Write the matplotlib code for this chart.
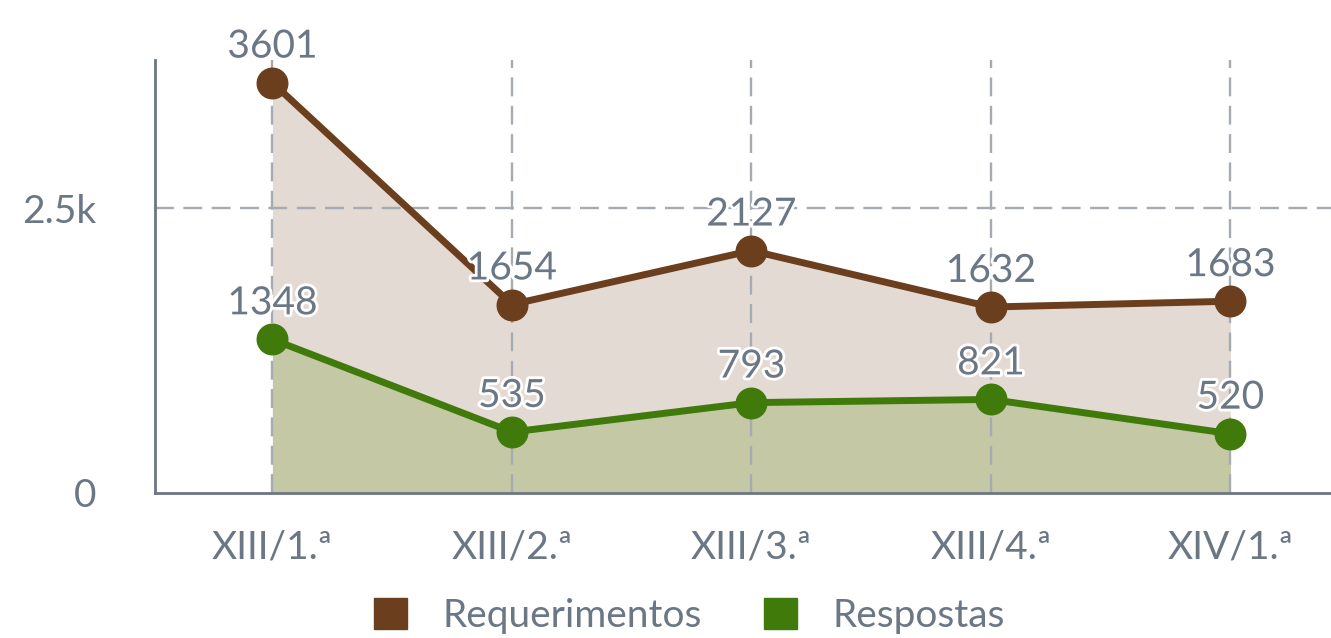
import numpy as np
import matplotlib.pyplot as plt
import matplotlib.patheffects as pe
from matplotlib.patches import Patch

plt.rcParams['font.family'] = ['Lato', 'DejaVu Sans']

categorias = ['XIII/1.ª', 'XIII/2.ª', 'XIII/3.ª', 'XIII/4.ª', 'XIV/1.ª']
requerimentos = [3601, 1654, 2127, 1632, 1683]
respostas = [1348, 535, 793, 821, 520]

cor_req = '#6b3e1e'
cor_resp = '#3f7a0a'
cor_texto = '#6b7785'
cor_grid = '#a6abb1'

fig = plt.figure(figsize=(13.31, 6.38), dpi=100)
ax = fig.add_axes([0.1165, 0.2273, 0.8835, 0.6787])

x = np.arange(len(categorias))

ax.fill_between(x, 0, requerimentos, color='#e4dad4', zorder=1, linewidth=0)
ax.fill_between(x, 0, respostas, color='#c5c8a5', zorder=1.1, linewidth=0)

for xi in x:
    ax.axvline(xi, color=cor_grid, linestyle=(0, (8, 4)), linewidth=1.7, zorder=2)
ax.axhline(2500, color=cor_grid, linestyle=(0, (8, 4)), linewidth=1.7, zorder=2)

ax.plot(x, requerimentos, color=cor_req, linewidth=5, marker='o', markersize=22, zorder=3)
ax.plot(x, respostas, color=cor_resp, linewidth=5, marker='o', markersize=22, zorder=3)

efeito = [pe.withStroke(linewidth=4, foreground='white')]
for serie in (requerimentos, respostas):
    for xi, v in zip(x, serie):
        ax.annotate(str(v), (xi, v), xytext=(0, 13), textcoords='offset points',
                    ha='center', va='bottom', fontsize=28, color=cor_texto,
                    path_effects=efeito, zorder=4)

ax.set_xlim(-0.49, 4.42)
ax.set_ylim(0, 3800)
ax.set_xticks(x)
ax.set_xticklabels(categorias)
ax.set_yticks([0, 2500])
ax.set_yticklabels(['0', '2.5k'])
ax.tick_params(axis='both', length=0, labelsize=28, labelcolor=cor_texto)
ax.tick_params(axis='x', pad=26)
ax.tick_params(axis='y', pad=42)

for s in ['top', 'right']:
    ax.spines[s].set_visible(False)
for s in ['left', 'bottom']:
    ax.spines[s].set_color(cor_texto)
    ax.spines[s].set_linewidth(2)

handles = [Patch(facecolor=cor_req, edgecolor=cor_req, label='Requerimentos'),
           Patch(facecolor=cor_resp, edgecolor=cor_resp, label='Respostas')]
leg = fig.legend(handles=handles, loc='center', bbox_to_anchor=(0.518, 0.034),
                 ncol=2, frameon=False, fontsize=28, handlelength=0.85,
                 handleheight=0.85, handletextpad=0.9, columnspacing=1.6)
for t in leg.get_texts():
    t.set_color(cor_texto)

fig.savefig('out.png', dpi=100)
